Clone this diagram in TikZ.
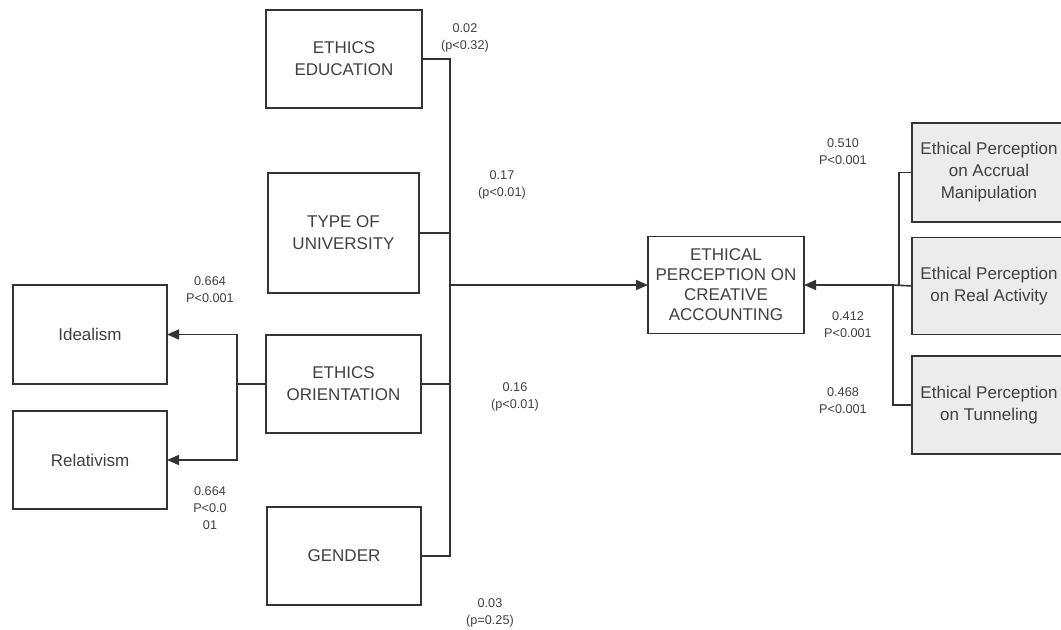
\documentclass[tikz,border=0pt]{standalone}
\usepackage{fontspec}
\setmainfont{Liberation Sans}
\usepackage{xcolor}
\usepackage{tikz}
\usetikzlibrary{positioning, arrows.meta}

\definecolor{linecol}{HTML}{333333}
\definecolor{textcol}{HTML}{404040}
\definecolor{boxgray}{HTML}{ECECEC}

\tikzset{
    box/.style={draw=linecol, line width=1.2pt, inner sep=0pt, outer sep=0pt, align=center, text=textcol, font=\fontsize{12.75}{16.5}\selectfont},
    grbox/.style={box, fill=boxgray},
    coef/.style={align=center, text=textcol, inner sep=0pt, font=\fontsize{9.5}{12.75}\selectfont},
    link/.style={draw=linecol, line width=1.2pt},
    tip/.style={link, -{Triangle[length=9pt,width=7.5pt]}}
}

\begin{document}
\begin{tikzpicture}[x=0.75pt,y=0.75pt,yscale=-1,xscale=1]
        \clip (0,0) rectangle (1061,630);
        \fill[white] (0,0) rectangle (1061,630);

        \node[box, minimum width=117pt, minimum height=73.5pt] (edu) at (344,59) {ETHICS\\EDUCATION};
        \node[box, minimum width=113pt, minimum height=90pt] (univ) at (343.5,233) {TYPE OF\\UNIVERSITY};
        \node[box, minimum width=116pt, minimum height=73.5pt] (orient) at (343.5,384) {ETHICS\\ORIENTATION};
        \node[box, minimum width=115.5pt, minimum height=73.5pt] (gender) at (344,556) {GENDER};
        \node[box, minimum width=115.5pt, minimum height=74pt] (ideal) at (90,334.5) {Idealism};
        \node[box, minimum width=115.5pt, minimum height=73.5pt] (relat) at (90,460) {Relativism};
        \node[box, minimum width=117pt, minimum height=73pt, font=\fontsize{12.75}{15}\selectfont] (eca) at (726,285) {ETHICAL\\PERCEPTION ON\\CREATIVE\\ACCOUNTING};
        \node[grbox, minimum width=115.5pt, minimum height=74pt] (accr) at (989,172.5) {Ethical Perception\\on Accrual\\Manipulation};
        \node[grbox, minimum width=115.5pt, minimum height=73pt] (real) at (989,286) {Ethical Perception\\on Real Activity};
        \node[grbox, minimum width=115.5pt, minimum height=73.5pt] (tunn) at (989,405) {Ethical Perception\\on Tunneling};

        \path (eca.west) ++(-198,0) coordinate (lbus);
        \path (eca.east) ++(89,0) coordinate (rbus);
        \path (orient.west) ++(-29,0) coordinate (obus);

        \draw[link] (edu.east) -| (lbus);
        \draw[link] (univ.east) -| (lbus);
        \draw[link] (orient.east) -- (orient.east -| lbus);
        \draw[link] (gender.east) -| (lbus);
        \draw[tip] (lbus) -- (eca.west);

        \draw[link] (accr.west) -| ([xshift=4.5pt]rbus);
        \draw[link] (real.west) -- (rbus);
        \draw[link] (tunn.west) -| (rbus);
        \draw[tip] (rbus) -- (eca.east);

        \draw[link] (orient.west) -- (obus);
        \draw[tip] (obus) |- (ideal.east);
        \draw[tip] (obus) |- (relat.east);

        \node[coef] (c_edu) at (465,38) {0.02\\(p<0.32)};
        \node[coef] (c_univ) at (502,185) {0.17\\(p<0.01)};
        \node[coef] (c_orient) at (515,397) {0.16\\(p<0.01)};
        \node[coef] (c_gender) at (490,613) {0.03\\(p=0.25)};
        \node[coef] (c_ideal) at (210,290) {0.664\\P<0.001};
        \node[coef] (c_relat) at (210,508) {0.664\\P<0.0\\01};
        \node[coef] (c_accr) at (843,152) {0.510\\P<0.001};
        \node[coef] (c_real) at (848,325) {0.412\\P<0.001};
        \node[coef] (c_tunn) at (843,401) {0.468\\P<0.001};
\end{tikzpicture}
\end{document}
